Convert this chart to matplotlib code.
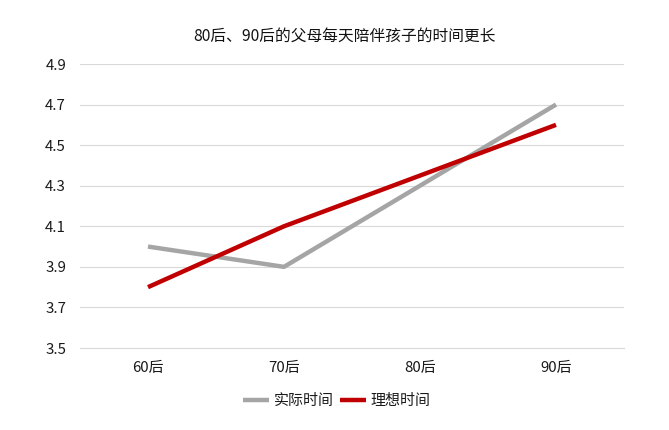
import matplotlib
matplotlib.use("Agg")
import matplotlib.pyplot as plt

plt.rcParams['font.family'] = ['Noto Sans CJK SC', 'DejaVu Sans']

categories = ["60后", "70后", "80后", "90后"]
actual = [4.0, 3.9, 4.3, 4.7]
ideal = [3.8, 4.1, 4.35, 4.6]
yticks = [3.5, 3.7, 3.9, 4.1, 4.3, 4.5, 4.7, 4.9]
title = "80后、90后的父母每天陪伴孩子的时间更长"

fig = plt.figure(figsize=(6.69, 4.30), dpi=100)
ax = fig.add_axes([80/669, 1-348/430, 544/669, 284/430])

x = list(range(len(categories)))
ax.plot(x, actual, color="#A5A5A5", lw=3.2, label="实际时间", solid_capstyle="butt")
ax.plot(x, ideal, color="#C00000", lw=3.2, label="理想时间", solid_capstyle="butt")

ax.set_xlim(-0.5, len(categories) - 0.5)
ax.set_ylim(3.5, 4.9)
ax.set_yticks(yticks)
ax.set_yticklabels([f"{v:.1f}" for v in yticks])
ax.set_xticks(x)
ax.set_xticklabels(categories)
ax.grid(axis="y", color="#D9D9D9", lw=0.8)
ax.set_axisbelow(True)
for s in ["top", "right", "left"]:
    ax.spines[s].set_visible(False)
ax.spines["bottom"].set_color("#D9D9D9")
ax.tick_params(axis="both", length=0, labelsize=10.8, colors="#1a1a1a")
ax.tick_params(axis="y", pad=10)
ax.tick_params(axis="x", pad=9)

fig.text(344/669, 1-36/430, title, ha="center", va="center", fontsize=11.3, color="#111111")

leg = fig.legend(loc="center", bbox_to_anchor=(337/669, 1-401/430), ncol=2, frameon=False,
                 fontsize=10.8, handlelength=1.7, columnspacing=0.4, handletextpad=0.35)
for t in leg.get_texts():
    t.set_color("#1a1a1a")

fig.savefig("out.png", dpi=100)
